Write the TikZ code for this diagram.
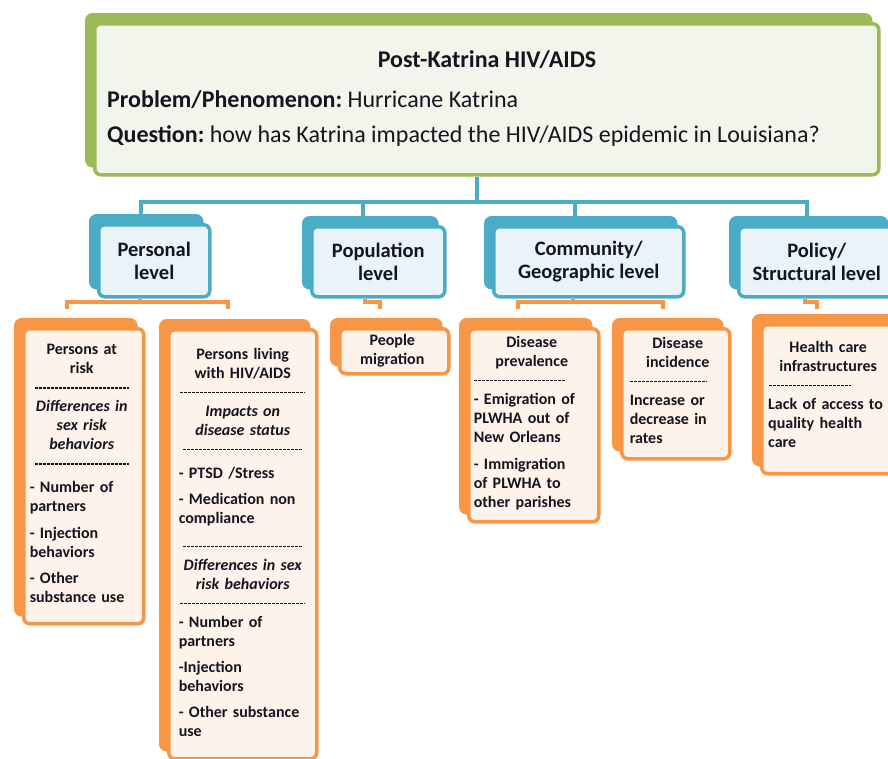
\documentclass[tikz,border=0pt]{standalone}
\usepackage{fontspec}
\setmainfont{Carlito}
\usetikzlibrary{calc}
\frenchspacing
\definecolor{grn}{HTML}{9BBB59}
\definecolor{grnfill}{HTML}{F2F5EC}
\definecolor{blu}{HTML}{4BACC6}
\definecolor{blufill}{HTML}{EAF4F8}
\definecolor{org}{HTML}{F79646}
\definecolor{orgfill}{HTML}{FDF3EA}
\definecolor{txt}{HTML}{15151F}
\newcommand\cdash[1]{{\centering\raisebox{4pt}{\tikz\draw[txt,dash pattern=on 3pt off 1pt,line width=1.2pt] (0pt,0pt)--(#1,0pt);}\par}}
\newcommand\ldash[1]{{\raggedright\noindent\raisebox{4pt}{\tikz\draw[txt,dash pattern=on 3pt off 1pt,line width=1.2pt] (0pt,0pt)--(#1,0pt);}\par}}
\newcommand\mkbox[6]{%
  \node[#1sh, minimum width={#5-#3}, minimum height={#6-#4}] (#2s) at ({#3-8},{#4-9}) {};
  \node[#1box, minimum width={#5-#3}, minimum height={#6-#4}] (#2) at (#3,#4) {};}
\begin{document}
\begin{tikzpicture}[x=1pt,y=-1pt,
  frame/.style={rounded corners=6pt, line width=3.5pt, inner sep=0pt, anchor=north west},
  gsh/.style={frame, draw=grn, fill=grn},
  gbox/.style={frame, draw=grn, fill=grnfill},
  bsh/.style={frame, draw=blu, fill=blu},
  bbox/.style={frame, draw=blu, fill=blufill},
  osh/.style={frame, draw=org, fill=org},
  obox/.style={frame, draw=org, fill=orgfill},
  bline/.style={draw=blu, line width=3.5pt},
  oline/.style={draw=org, line width=3.2pt},
  htext/.style={text=txt, font=\fontsize{24}{28}\selectfont, inner sep=0pt},
  ltext/.style={text=txt, font=\bfseries\fontsize{20.5}{23}\selectfont, align=center, inner sep=0pt},
  otext/.style={text=txt, font=\bfseries\fontsize{16}{19}\selectfont, inner sep=0pt, anchor=north}
]
\clip (0,0) rectangle (888,758);
\fill[white] (0,0) rectangle (888,758);

% top box
\mkbox{g}{top}{93}{22}{877}{173}
\node[htext, font=\bfseries\fontsize{24}{28}\selectfont] (title) at (487,60) {Post-Katrina HIV/AIDS};
\node[htext, anchor=west] (prob) at (107,100) {\textbf{Problem/Phenomenon:} Hurricane Katrina};
\node[htext, anchor=west] (ques) at (107,136) {\textbf{Question:} how has Katrina impacted the HIV/AIDS epidemic in Louisiana?};

% level boxes
\mkbox{b}{pers}{97}{223}{208}{295}
\mkbox{b}{popu}{310}{225}{443}{295}
\mkbox{b}{comm}{492}{225}{682}{295}
\mkbox{b}{poli}{737}{225}{893}{295}
\node[ltext] at (pers) {Personal\\level};
\node[ltext] at (popu) {Population\\level};
\node[ltext] at (comm) {Community/\\Geographic level};
\node[ltext] at (poli) {Policy/\\Structural level};

% blue connectors
\coordinate (bus) at (477,202);
\draw[bline] (top.south -| bus) -- (bus);
\draw[bline] (bus) -| ([xshift=-5.5pt]perss.north);
\draw[bline] (bus) -| ([xshift=-7.5pt]popus.north);
\draw[bline] (bus) -| ([xshift=-6pt]comms.north);
\draw[bline] (bus) -| ([xshift=-2pt]polis.north);

% detail boxes
\mkbox{o}{risk}{22}{327}{142}{622}
\mkbox{o}{plwh}{167}{328}{315}{757}
\mkbox{o}{migr}{338}{327}{447}{372}
\mkbox{o}{prev}{467}{327}{597}{520}
\mkbox{o}{inci}{620}{327}{728}{457}
\mkbox{o}{hcare}{760}{323}{900}{472}

% orange connectors
\coordinate (o1) at (140,302);
\draw[oline] (pers.south -| o1) -- (o1);
\draw[oline] (o1) -| (67,309);
\draw[oline] (o1) -| (228,309);
\coordinate (o2) at (365,302);
\draw[oline] (popu.south -| o2) -- (o2) -| (380,309);
\coordinate (o3) at (573,302);
\draw[oline] (comm.south -| o3) -- (o3);
\draw[oline] (o3) -| (518,309);
\draw[oline] (o3) -| (663,309);
\coordinate (o4) at (805,302);
\draw[oline] (poli.south -| o4) -- (o4) -| (817,309);

% detail texts
\node[otext, text width=104pt] at ($(risk.north)+(-2,17)$) {%
{\centering Persons at\\risk\par}
\cdash{94pt}
{\centering\itshape Differences in\\sex risk\\behaviors\par}
\cdash{94pt}
\vspace{5pt}
\raggedright - Number of\\partners\par\vspace{8pt}
- Injection\\behaviors\par\vspace{7pt}
- Other\\substance use\par};

\node[otext, text width=128pt] at ($(plwh.north)+(0,20)$) {%
{\centering Persons living\\with HIV/AIDS\par}
\cdash{125pt}
{\centering\itshape Impacts on\\disease status\par}
\cdash{120pt}
\vspace{5pt}
\raggedright - PTSD /Stress\par\vspace{7pt}
- Medication non\\compliance\par\vspace{9pt}
\cdash{120pt}
{\centering\itshape Differences in sex\\risk behaviors\par}
\cdash{125pt}
\raggedright - Number of\\partners\par\vspace{7pt}
-Injection\\behaviors\par\vspace{7pt}
- Other substance\\use\par};

\node[otext, align=center, anchor=center] at ($(migr.center)+(-2,-0.5)$) {People\\migration};

\node[otext, text width=116pt] at ($(prev.north)+(-2,9)$) {%
{\centering Disease\\prevalence\par}
\ldash{91pt}
\raggedright - Emigration of\\PLWHA out of\\New Orleans\par\vspace{8pt}
- Immigration\\of PLWHA to\\other parishes\par};

\node[otext, text width=96pt] at ($(inci.north)+(2,10)$) {%
{\centering Disease\\incidence\par}
\ldash{77pt}
\raggedright Increase or\\decrease in\\rates\par};

\node[otext, text width=120pt, anchor=north west] at (768,341) {%
{\centering Health care\\infrastructures\par}
\ldash{82pt}
\raggedright Lack of access to\\quality health\\care\par};
\end{tikzpicture}
\end{document}
